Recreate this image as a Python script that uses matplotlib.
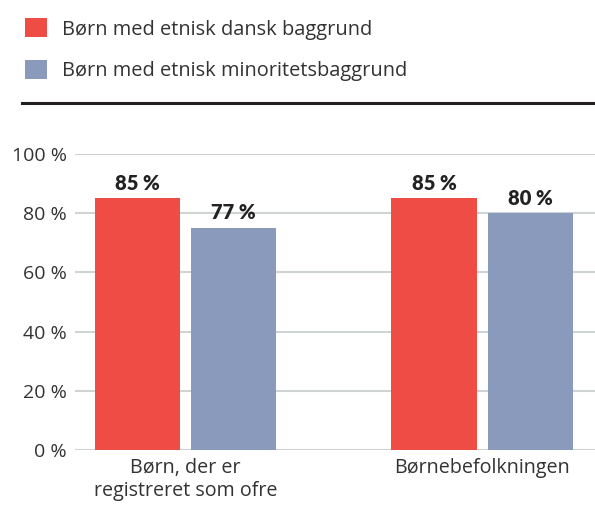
import matplotlib
matplotlib.use("Agg")
import matplotlib.pyplot as plt
import numpy as np
from matplotlib.patches import Patch
from matplotlib.lines import Line2D

plt.rcParams['font.family'] = ['Open Sans', 'DejaVu Sans']

categories = ["Børn, der er\nregistreret som ofre", "Børnebefolkningen"]
series_names = ["Børn med etnisk dansk baggrund", "Børn med etnisk minoritetsbaggrund"]
danish = [85, 85]
minority = [75, 80]
danish_labels = ["85 %", "85 %"]
minority_labels = ["77 %", "80 %"]
yticks = [0, 20, 40, 60, 80, 100]
ytick_labels = ["0 %", "20 %", "40 %", "60 %", "80 %", "100 %"]

RED = "#f04c46"
BLUE = "#8a9abd"
TEXT = "#333333"

W, H = 595, 505
fig = plt.figure(figsize=(W / 100, H / 100), dpi=100)
ax = fig.add_axes([75 / W, (H - 450) / H, (W - 75) / W, 296 / H])

x = np.arange(len(categories))
bw = 0.287
off = 0.162
b1 = ax.bar(x - off, danish, bw, color=RED, zorder=3)
b2 = ax.bar(x + off, minority, bw, color=BLUE, zorder=3)

for bars, labs in ((b1, danish_labels), (b2, minority_labels)):
    for rect, lab in zip(bars, labs):
        ax.annotate(lab, (rect.get_x() + rect.get_width() / 2, rect.get_height()),
                    xytext=(0, 4), textcoords="offset points", ha="center", va="bottom",
                    fontsize=14.5, fontweight="heavy", family=["Lato", "DejaVu Sans"],
                    color="#222222", annotation_clip=False)

ax.set_xlim(-0.373, 1.381)
ax.set_ylim(0, 100)
ax.set_yticks(yticks)
ax.set_yticklabels(ytick_labels)
ax.set_xticks(x)
ax.set_xticklabels(categories, linespacing=1.2)
ax.tick_params(axis="y", length=0, pad=6, labelsize=14, labelcolor=TEXT)
ax.tick_params(axis="x", length=0, pad=6, labelsize=14.2, labelcolor=TEXT)
ax.grid(axis="y", color="#cfd3d3", linewidth=1.5, zorder=0)
for s in ax.spines.values():
    s.set_visible(False)

handles = [Patch(facecolor=RED, edgecolor="none"), Patch(facecolor=BLUE, edgecolor="none")]
fig.legend(handles, series_names, loc="upper left", bbox_to_anchor=(17 / W, 1 - 10 / H),
           frameon=False, fontsize=14.4, handlelength=1.12, handleheight=1.12,
           handletextpad=0.75, labelspacing=1.0, labelcolor=TEXT, borderaxespad=0)

fig.add_artist(Line2D([22 / W, 1.0], [1 - 103 / H, 1 - 103 / H], color="#231f20",
                      linewidth=2.2, transform=fig.transFigure))

fig.savefig("out.png", dpi=100)
